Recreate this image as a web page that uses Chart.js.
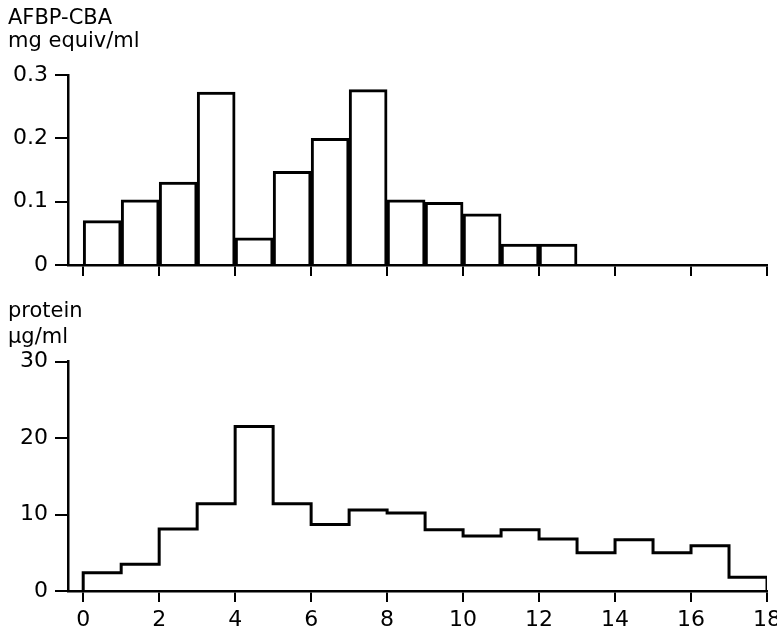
<!DOCTYPE html>
<html>
<head>
<meta charset="utf-8">
<script src="https://cdn.jsdelivr.net/npm/chart.js@4/dist/chart.umd.min.js"></script>
<style>
  body { margin: 0; background: #ffffff; }
  #wrap { position: relative; width: 777px; height: 635px; }
  canvas { position: absolute; left: 0; }
  #topChart { top: 0; }
  #bottomChart { top: 290px; }
</style>
</head>
<body>
<div id="wrap">
  <canvas id="topChart" width="777" height="290"></canvas>
  <canvas id="bottomChart" width="777" height="345"></canvas>
</div>
<script>
// fraction number (each bin is one unit wide, starting at binStart)
const agBinStart = [0, 1, 2, 3, 4, 5, 6, 7, 8, 9, 10, 11, 12];
const agValues = [0.070, 0.103, 0.131, 0.273, 0.043, 0.148, 0.200, 0.277, 0.103, 0.099, 0.081, 0.033, 0.033];

const proteinBinStart = [0, 1, 2, 3, 4, 5, 6, 7, 8, 9, 10, 11, 12, 13, 14, 15, 16, 17];
const proteinValues = [2.4, 3.5, 8.1, 11.4, 21.5, 11.4, 8.7, 10.6, 10.2, 8.0, 7.2, 8.0, 6.8, 5.0, 6.7, 5.0, 5.9, 1.8];
const lastBinEnd = 18;

const xTicks = [0, 2, 4, 6, 8, 10, 12, 14, 16, 18];
const agTicks = [0, 0.1, 0.2, 0.3];
const proteinTicks = [0, 10, 20, 30];

Chart.defaults.color = '#000000';
Chart.defaults.font.family = '"DejaVu Sans", sans-serif';
Chart.defaults.font.size = 22;

function setTicks(list) {
  return (scale) => { scale.ticks = list.map((v) => ({ value: v })); };
}

function xAxis(showLabels, height) {
  return {
    type: 'linear',
    offset: false,
    min: -0.4,
    max: 18,
    afterBuildTicks: setTicks(xTicks),
    afterFit: (scale) => {
      scale.height = height;
      scale.paddingLeft = 0;
      scale.paddingRight = 0;
    },
    border: { display: true, color: '#000', width: 2.5 },
    grid: { offset: false, drawOnChartArea: false, drawTicks: true, tickLength: 11, color: '#000', lineWidth: 2 },
    ticks: { display: showLabels, padding: 5, maxRotation: 0, autoSkip: false },
  };
}

function yAxis(min, max, list) {
  return {
    min: min,
    max: max,
    afterBuildTicks: setTicks(list),
    afterFit: (scale) => {
      scale.width = 60;
      scale.paddingTop = 0;
      scale.paddingBottom = 0;
    },
    border: { display: true, color: '#000', width: 2.5 },
    grid: { drawOnChartArea: false, drawTicks: true, tickLength: 13, color: '#000', lineWidth: 2 },
    ticks: { padding: 7, autoSkip: false },
  };
}

// верхний график - гистограмма
new Chart(document.getElementById('topChart'), {
  type: 'bar',
  data: {
    datasets: [{
      data: agBinStart.map((s, i) => ({ x: s + 0.5, y: agValues[i] })),
      backgroundColor: '#ffffff',
      borderColor: '#000000',
      borderWidth: 3,
      barPercentage: 1,
      categoryPercentage: 1,
    }]
  },
  options: {
    responsive: false,
    animation: false,
    layout: { padding: { top: 0, left: 8, right: 10, bottom: 10 } },
    scales: {
      x: xAxis(false, 15),
      y: yAxis(0, 0.3, agTicks),
    },
    plugins: {
      legend: { display: false },
      tooltip: { enabled: false },
      title: {
        display: true,
        text: ['AFBP-CBA', 'mg equiv/ml'],
        align: 'start',
        font: { size: 21, weight: 'normal', lineHeight: 1.05 },
        padding: { top: 8, bottom: 23 },
      },
    }
  }
});

// нижний график - ступенчатая линия
const proteinPoints = [{ x: proteinBinStart[0], y: 0 }];
proteinBinStart.forEach((s, i) => proteinPoints.push({ x: s, y: proteinValues[i] }));
proteinPoints.push({ x: lastBinEnd, y: proteinValues[proteinValues.length - 1] });
proteinPoints.push({ x: lastBinEnd, y: 0 });

new Chart(document.getElementById('bottomChart'), {
  type: 'line',
  data: {
    datasets: [{
      data: proteinPoints,
      borderColor: '#000000',
      borderWidth: 3,
      stepped: true,
      pointRadius: 0,
      fill: false,
    }]
  },
  options: {
    responsive: false,
    animation: false,
    layout: { padding: { top: 0, left: 8, right: 10, bottom: 4 } },
    scales: {
      x: xAxis(true, 40),
      y: yAxis(0, 30, proteinTicks),
    },
    plugins: {
      legend: { display: false },
      tooltip: { enabled: false },
      title: {
        display: true,
        text: ['protein', 'µg/ml'],
        align: 'start',
        font: { size: 21, weight: 'normal', lineHeight: 1.25 },
        padding: { top: 8, bottom: 11 },
      },
    }
  }
});
</script>
</body>
</html>
